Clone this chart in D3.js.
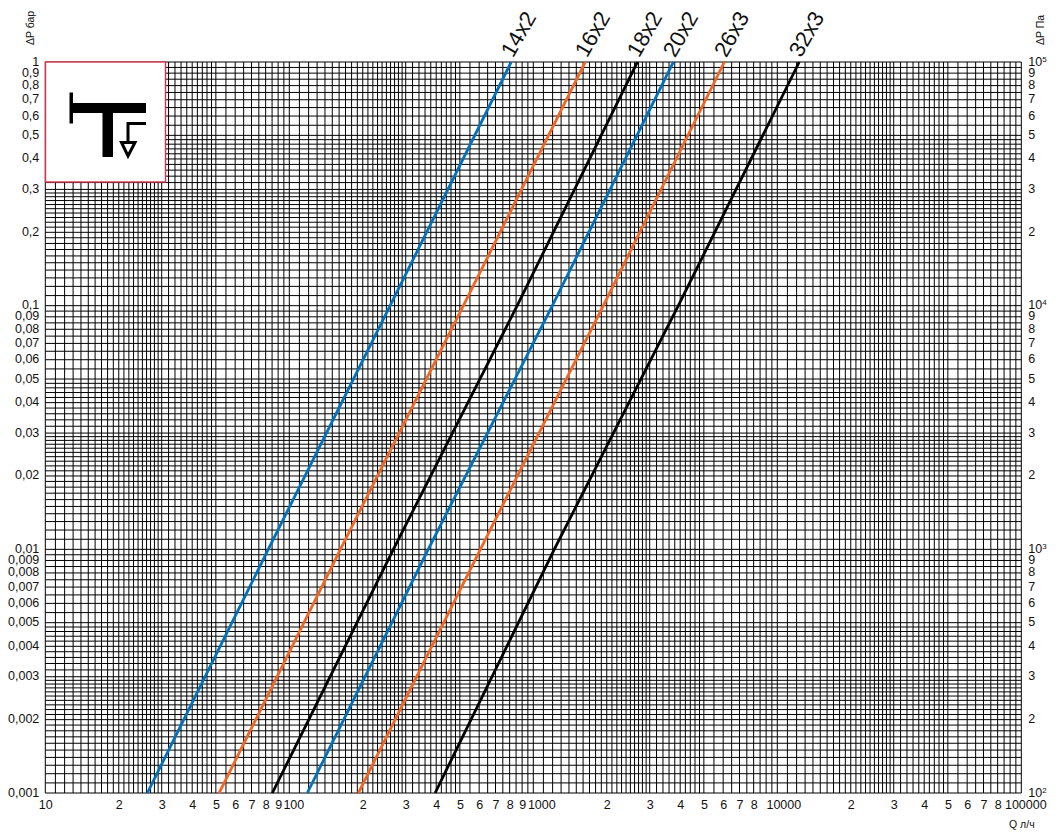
<!DOCTYPE html>
<html><head><meta charset="utf-8">
<script src="https://cdn.jsdelivr.net/npm/d3@7"></script>
<style>
html,body{margin:0;padding:0;background:#fff}
svg{display:block}
text{font-family:"Liberation Sans",Arial,sans-serif;fill:#111}
</style></head><body>
<svg id="c" width="1061" height="832"></svg>
<script>
// ---- data ----
const seriesNames = ["14x2","16x2","18x2","20x2","26x3","32x3"];
const seriesColors = ["#0072bc","#f26522","#000000","#0072bc","#f26522","#000000"];
const pressureSamples = [0.001,0.01,0.1,1];
const flow14x2 = [26.2,82,259,812];
const flow16x2 = [51.6,162,517,1633];
const flow18x2 = [85.2,267,859,2670];
const flow20x2 = [118.5,371,1197,3750];
const flow26x3 = [192,607,1936,6070];
const flow32x3 = [396,1219,3930,12300];
const allFlows = [flow14x2,flow16x2,flow18x2,flow20x2,flow26x3,flow32x3];

const gridMantissas = [1,1.1,1.2,1.3,1.4,1.5,1.6,1.7,1.8,1.9,2,2.1,2.2,2.3,2.4,2.5,2.6,2.7,2.8,2.9,
  3,3.2,3.4,3.6,3.8,4,4.2,4.4,4.6,4.8,5,5.5,6,6.5,7,7.5,8,8.5,9,9.5];
const xDecades = [10,100,1000,10000];
const yDecades = [0.001,0.01,0.1];

const xTickValues = [10,20,30,40,50,60,70,80,90,100,200,300,400,500,600,700,800,900,1000,2000,3000,4000,5000,6000,7000,8000,10000,20000,30000,40000,50000,60000,70000,80000,100000];
const xTickLabels = ["10","2","3","4","5","6","7","8","9","100","2","3","4","5","6","7","8","9","1000","2","3","4","5","6","7","8","10000","2","3","4","5","6","7","8","100000"];
const yLeftValues = [1,0.9,0.8,0.7,0.6,0.5,0.4,0.3,0.2,0.1,0.09,0.08,0.07,0.06,0.05,0.04,0.03,0.02,0.01,0.009,0.008,0.007,0.006,0.005,0.004,0.003,0.002,0.001];
const yLeftLabels = ["1","0,9","0,8","0,7","0,6","0,5","0,4","0,3","0,2","0,1","0,09","0,08","0,07","0,06","0,05","0,04","0,03","0,02","0,01","0,009","0,008","0,007","0,006","0,005","0,004","0,003","0,002","0,001"];
const yRightLabels = ["10|5","9","8","7","6","5","4","3","2","10|4","9","8","7","6","5","4","3","2","10|3","9","8","7","6","5","4","3","2","10|2"];

// ---- layout ----
const L=45.3,R=1021.3,T=62,B=793;
const x=d3.scaleLog().domain([10,100000]).range([L,R]);
const y=d3.scaleLog().domain([0.001,1]).range([B,T]);
const svg=d3.select("#c");

// grid
const xGrid=xDecades.flatMap(d=>gridMantissas.map(m=>d*m)).concat([100000]);
const yGrid=yDecades.flatMap(d=>gridMantissas.map(m=>d*m)).concat([1]);
const g=svg.append("g").attr("stroke","#000").attr("stroke-width",1);
g.selectAll("line.v").data(xGrid).join("line").attr("class","v")
 .attr("x1",d=>x(d)).attr("x2",d=>x(d)).attr("y1",T).attr("y2",B);
g.selectAll("line.h").data(yGrid).join("line").attr("class","h")
 .attr("y1",d=>y(d)).attr("y2",d=>y(d)).attr("x1",L).attr("x2",R);

// curves
const line=d3.line().x(d=>x(d[0])).y(d=>y(d[1])).curve(d3.curveMonotoneY);
allFlows.forEach((f,i)=>{
  svg.append("path").attr("d",line(f.map((q,k)=>[q,pressureSamples[k]])))
    .attr("fill","none").attr("stroke",seriesColors[i]).attr("stroke-width",2.8);
  svg.append("text").text(seriesNames[i]).attr("text-anchor","middle").attr("font-size",22)
    .attr("transform",`translate(${x(f[3])+7},34) rotate(-60)`).attr("dy","0.35em");
});

// x axis
const xa=svg.append("g").attr("transform",`translate(0,${B})`)
 .call(d3.axisBottom(x).tickValues(xTickValues).tickFormat((d,i)=>xTickLabels[i]).tickSize(0).tickPadding(7));
xa.select(".domain").remove();
xa.selectAll("text").attr("font-size",12.5).attr("font-family",null).attr("fill","#111")
  .attr("dx",(d,i)=>{const l=xTickLabels[i];return l==="100"?4:l==="1000"?8:l==="10000"?6:l==="100000"?4:0;});

// left axis
const la=svg.append("g").attr("transform",`translate(${L},-1)`)
 .call(d3.axisLeft(y).tickValues(yLeftValues).tickFormat((d,i)=>yLeftLabels[i]).tickSize(0).tickPadding(6));
la.select(".domain").remove();
la.selectAll("text").attr("font-size",12.5).attr("font-family",null).attr("fill","#111");

// right axis
const ra=svg.append("g").attr("transform",`translate(${R},-1)`)
 .call(d3.axisRight(y).tickValues(yLeftValues).tickFormat("").tickSize(0).tickPadding(7));
ra.select(".domain").remove();
ra.selectAll("text").attr("font-size",12.5).attr("font-family",null).attr("fill","#111").each(function(d,i){
  const p=yRightLabels[i].split("|"),t=d3.select(this);
  t.text(p[0]);
  if(p[1]) t.append("tspan").text(p[1]).attr("font-size",8).attr("dy",-4);
});

// axis titles
svg.append("text").text("ΔP бар").attr("font-size",10.5).attr("text-anchor","start")
  .attr("transform","translate(34,45) rotate(-90)");
svg.append("text").text("ΔP Па").attr("font-size",10.5).attr("text-anchor","start")
  .attr("transform","translate(1044,45) rotate(-90)");
svg.append("text").text("Q л/ч").attr("font-size",10.5).attr("x",1009).attr("y",828);

// icon
const ic=svg.append("g");
ic.append("rect").attr("x",45.5).attr("y",62).attr("width",120).attr("height",120)
  .attr("fill","#fff").attr("stroke","#d2364f").attr("stroke-width",1.4);
ic.append("rect").attr("x",69.5).attr("y",92.5).attr("width",3.5).attr("height",31);
ic.append("rect").attr("x",72).attr("y",103).attr("width",74).attr("height",10);
ic.append("rect").attr("x",102.5).attr("y",112).attr("width",10.5).attr("height",45);
ic.append("path").attr("d","M146 123.5H128V142").attr("fill","none").attr("stroke","#000").attr("stroke-width",3);
ic.append("path").attr("d","M121.5 142.5H135L128 156Z").attr("fill","#fff").attr("stroke","#000").attr("stroke-width",3);
</script>
</body></html>
